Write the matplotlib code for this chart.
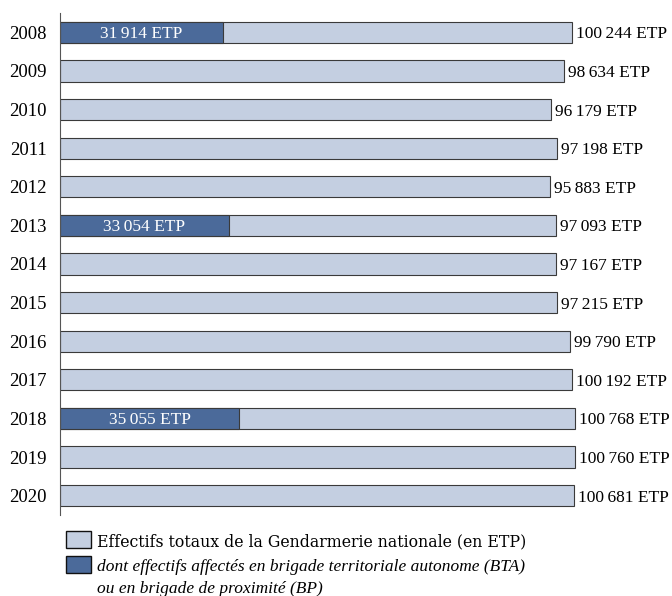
import matplotlib.pyplot as plt
from matplotlib.patches import Rectangle

years = ["2008", "2009", "2010", "2011", "2012", "2013", "2014",
         "2015", "2016", "2017", "2018", "2019", "2020"]
total_etp = [100244, 98634, 96179, 97198, 95883, 97093, 97167,
             97215, 99790, 100192, 100768, 100760, 100681]
bta_years = ["2008", "2013", "2018"]
bta_etp = [31914, 33054, 35055]

light = "#c4cfe1"
dark = "#4b6a9a"
edge = "#3a3a3a"

plt.rcParams['font.family'] = ['Liberation Serif', 'DejaVu Serif']


def fmt(v):
    s = f"{v:,}".replace(",", "\u2009")
    return s + " ETP"


fig = plt.figure(figsize=(6.72, 5.96), dpi=100)
ax = fig.add_axes([60 / 672, 81 / 596, 612 / 672, 502 / 596])

pos = list(range(len(years)))
ax.barh(pos, total_etp, height=0.55, color=light, edgecolor=edge, linewidth=0.8)
for i, v in zip(pos, total_etp):
    ax.text(v + 800, i, fmt(v), va="center_baseline", ha="left", fontsize=12.5)

bta_pos = [years.index(y) for y in bta_years]
ax.barh(bta_pos, bta_etp, height=0.55, color=dark, edgecolor=edge, linewidth=0.8)
for i, v in zip(bta_pos, bta_etp):
    ax.text(v / 2, i, fmt(v), va="center_baseline", ha="center", fontsize=12.5, color="white")

ax.set_xlim(0, 119800)
ax.set_ylim(len(years) - 0.5, -0.5)
ax.set_yticks(pos)
ax.set_yticklabels(years, fontsize=13.5, va="center_baseline")
ax.tick_params(axis="y", length=0, pad=9.5)
ax.set_xticks([])
for s in ["top", "right", "bottom"]:
    ax.spines[s].set_visible(False)
ax.spines["left"].set_color("#555555")
ax.spines["left"].set_linewidth(0.8)

# légende
for y0, col in [(531, light), (556, dark)]:
    fig.patches.append(Rectangle((66 / 672, 1 - (y0 + 17) / 596), 25 / 672, 17 / 596,
                                 transform=fig.transFigure, facecolor=col,
                                 edgecolor="#111111", linewidth=1))
fig.text(97 / 672, 1 - 540 / 596, "Effectifs totaux de la Gendarmerie nationale (en ETP)",
         fontsize=11.3, va="center_baseline", ha="left", family="DejaVu Serif")
fig.text(97 / 672, 1 - 565 / 596, "dont effectifs affectés en brigade territoriale autonome (BTA)",
         fontsize=12.5, va="center_baseline", ha="left", style="italic")
fig.text(97 / 672, 1 - 587 / 596, "ou en brigade de proximité (BP)",
         fontsize=12.5, va="center_baseline", ha="left", style="italic")

fig.savefig("out.png", dpi=100)
